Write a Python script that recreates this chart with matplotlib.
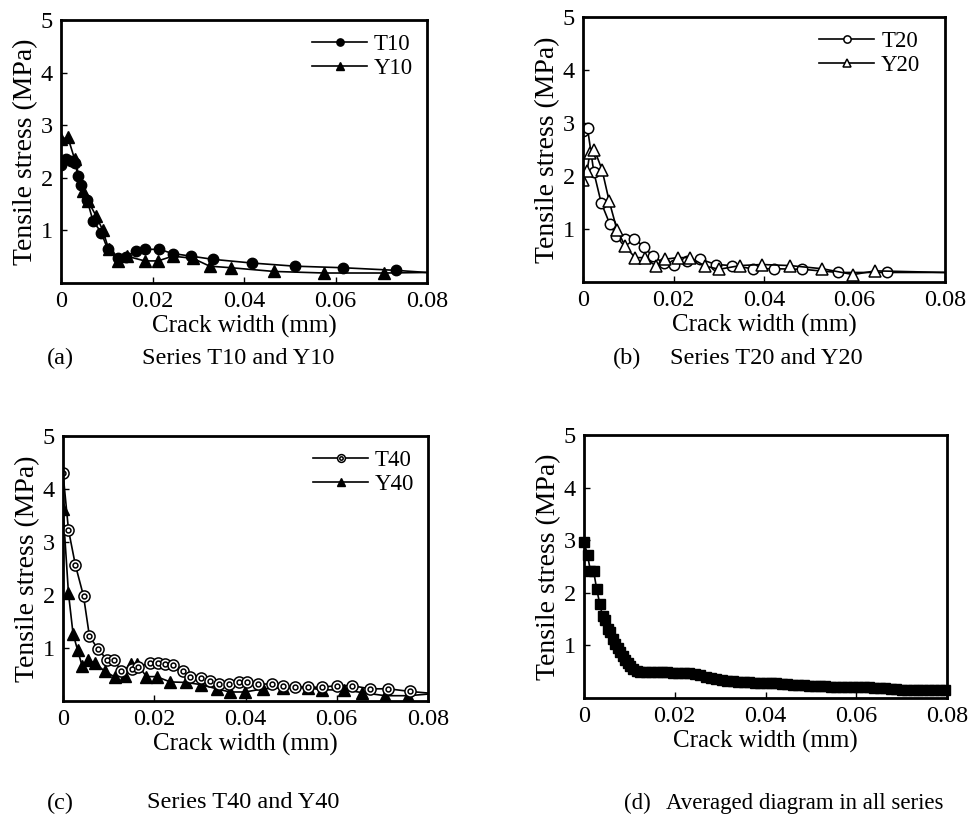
import matplotlib
matplotlib.use("Agg")
import matplotlib.pyplot as plt

plt.rcParams['font.family'] = ['Liberation Serif', 'DejaVu Serif']

# ---- data (crack width in mm, stress in MPa) ----
t10_x = [0.0000, 0.0012, 0.0022, 0.0031, 0.0037, 0.0044, 0.0057, 0.0070, 0.0088, 0.0102, 0.0124,
         0.0142, 0.0164, 0.0183, 0.0215, 0.0244, 0.0285, 0.0332, 0.0417, 0.0511, 0.0617, 0.0733, 0.0800]
t10_y = [2.25, 2.35, 2.32, 2.28, 2.03, 1.86, 1.58, 1.18, 0.96, 0.64, 0.48,
         0.50, 0.61, 0.64, 0.64, 0.56, 0.51, 0.45, 0.38, 0.32, 0.29, 0.24, 0.20]
y10_x = [0.0000, 0.0015, 0.0030, 0.0048, 0.0059, 0.0077, 0.0091, 0.0104, 0.0124, 0.0144,
         0.0183, 0.0212, 0.0244, 0.0288, 0.0325, 0.0372, 0.0465, 0.0575, 0.0706, 0.0800]
y10_y = [2.73, 2.77, 2.35, 1.75, 1.56, 1.27, 1.01, 0.65, 0.42, 0.51,
         0.42, 0.42, 0.51, 0.47, 0.32, 0.29, 0.22, 0.19, 0.19, 0.20]

t20_x = [0.0000, 0.0010, 0.0024, 0.0040, 0.0059, 0.0074, 0.0093, 0.0113, 0.0135, 0.0154, 0.0178,
         0.0200, 0.0229, 0.0259, 0.0294, 0.0329, 0.0375, 0.0423, 0.0485, 0.0563, 0.0671, 0.0800]
t20_y = [2.85, 2.90, 2.07, 1.50, 1.10, 0.87, 0.82, 0.82, 0.66, 0.49, 0.36,
         0.33, 0.39, 0.43, 0.33, 0.31, 0.25, 0.25, 0.24, 0.18, 0.18, 0.18]
y20_x = [0.0000, 0.0009, 0.0015, 0.0025, 0.0042, 0.0058, 0.0075, 0.0093, 0.0115, 0.0137, 0.0161,
         0.0182, 0.0209, 0.0237, 0.0270, 0.0301, 0.0347, 0.0395, 0.0457, 0.0529, 0.0597, 0.0646, 0.0800]
y20_y = [1.93, 2.09, 2.43, 2.50, 2.12, 1.52, 0.99, 0.68, 0.46, 0.46, 0.30,
         0.43, 0.46, 0.46, 0.30, 0.24, 0.31, 0.33, 0.31, 0.25, 0.14, 0.21, 0.18]

t40_x = [0.0000, 0.0012, 0.0027, 0.0045, 0.0058, 0.0076, 0.0096, 0.0111, 0.0128, 0.0151, 0.0164,
         0.0191, 0.0209, 0.0224, 0.0240, 0.0262, 0.0279, 0.0302, 0.0323, 0.0341, 0.0363, 0.0385,
         0.0403, 0.0428, 0.0458, 0.0483, 0.0509, 0.0538, 0.0567, 0.0600, 0.0633, 0.0673, 0.0713,
         0.0761, 0.0800]
t40_y = [4.30, 3.23, 2.57, 1.98, 1.22, 0.99, 0.78, 0.77, 0.57, 0.60, 0.64,
         0.72, 0.72, 0.69, 0.68, 0.56, 0.46, 0.43, 0.38, 0.32, 0.32, 0.35,
         0.35, 0.32, 0.32, 0.28, 0.27, 0.26, 0.26, 0.29, 0.29, 0.23, 0.23,
         0.18, 0.15]
y40_x = [0.0000, 0.0012, 0.0022, 0.0032, 0.0042, 0.0055, 0.0070, 0.0092, 0.0114, 0.0136, 0.0149,
         0.0163, 0.0183, 0.0205, 0.0235, 0.0270, 0.0302, 0.0337, 0.0366, 0.0399, 0.0439, 0.0483,
         0.0538, 0.0567, 0.0615, 0.0655, 0.0706, 0.0757, 0.0800]
y40_y = [3.62, 2.03, 1.27, 0.96, 0.66, 0.78, 0.71, 0.56, 0.45, 0.48, 0.69,
         0.69, 0.46, 0.46, 0.36, 0.35, 0.31, 0.23, 0.17, 0.17, 0.23, 0.25,
         0.25, 0.21, 0.21, 0.16, 0.10, 0.10, 0.13]

avg_x = [0.0000, 0.0008, 0.0014, 0.0021, 0.0028, 0.0035, 0.0041, 0.0046, 0.0052, 0.0057,
         0.0063, 0.0068, 0.0074, 0.0079, 0.0085, 0.0090, 0.0096, 0.0102, 0.0109, 0.0116,
         0.0124, 0.0136, 0.0148, 0.0160, 0.0172, 0.0184, 0.0196, 0.0208, 0.0220, 0.0232,
         0.0244, 0.0256, 0.0268, 0.0280, 0.0292, 0.0304, 0.0316, 0.0328, 0.0340, 0.0352,
         0.0364, 0.0376, 0.0388, 0.0400, 0.0412, 0.0424, 0.0436, 0.0448, 0.0460, 0.0472,
         0.0484, 0.0496, 0.0508, 0.0520, 0.0532, 0.0544, 0.0556, 0.0568, 0.0580, 0.0592,
         0.0604, 0.0616, 0.0628, 0.0640, 0.0652, 0.0664, 0.0676, 0.0688, 0.0700, 0.0712,
         0.0724, 0.0736, 0.0748, 0.0760, 0.0772, 0.0784, 0.0796]
avg_y = [2.97, 2.71, 2.42, 2.42, 2.07, 1.78, 1.55, 1.48, 1.32, 1.26,
         1.12, 1.03, 0.95, 0.87, 0.80, 0.73, 0.66, 0.60, 0.55, 0.51,
         0.50, 0.50, 0.50, 0.50, 0.49, 0.49, 0.48, 0.48, 0.48, 0.48,
         0.46, 0.43, 0.40, 0.38, 0.36, 0.34, 0.33, 0.32, 0.31, 0.30,
         0.30, 0.29, 0.29, 0.29, 0.28, 0.28, 0.27, 0.26, 0.25, 0.24,
         0.24, 0.23, 0.23, 0.22, 0.22, 0.21, 0.21, 0.21, 0.20, 0.20,
         0.20, 0.20, 0.20, 0.19, 0.19, 0.19, 0.18, 0.17, 0.16, 0.16,
         0.16, 0.16, 0.16, 0.16, 0.16, 0.16, 0.16]

x_ticks = [0, 0.02, 0.04, 0.06, 0.08]
x_tick_labels = ['0', '0.02', '0.04', '0.06', '0.08']
y_ticks = [1, 2, 3, 4, 5]

W, H = 975, 815
fig = plt.figure(figsize=(W / 100, H / 100), dpi=100)


def px_rect(left, top, right, bottom):
    return [left / W, 1 - bottom / H, (right - left) / W, (bottom - top) / H]


def make_axes(rect):
    ax = fig.add_axes(rect)
    ax.set_xlim(0, 0.08)
    ax.set_ylim(0, 5)
    ax.set_xticks(x_ticks)
    ax.set_xticklabels(x_tick_labels)
    ax.set_yticks(y_ticks)
    ax.tick_params(direction='in', length=4, width=1, labelsize=17.5, pad=6)
    for s in ax.spines.values():
        s.set_linewidth(2)
    ax.set_xlabel('Crack width (mm)', fontsize=18, labelpad=2)
    ax.set_ylabel('Tensile stress (MPa)', fontsize=20, labelpad=2)
    return ax


def curve(ax, x, y, **kw):
    # last point only carries the line to the right edge, no marker there
    return ax.plot(x, y, color='k', lw=1.2, markevery=slice(0, len(x) - 1), **kw)[0]


leg_kw = dict(loc='upper right', frameon=False, fontsize=16.5, handlelength=2.4,
              handletextpad=0.3, labelspacing=0.15, borderaxespad=0.3, borderpad=0.3,
              markerscale=0.7)

# (a)
ax = make_axes(px_rect(61, 20, 427, 283))
h1 = curve(ax, t10_x, t10_y, marker='o', ms=7.5, mfc='k', mec='k')
h2 = curve(ax, y10_x, y10_y, marker='^', ms=8, mfc='k', mec='k')
ax.legend([h1, h2], ['T10', 'Y10'], **leg_kw)

# (b)
ax = make_axes(px_rect(583, 17, 945, 282))
h1 = curve(ax, t20_x, t20_y, marker='o', ms=7.5, mfc='white', mec='k', mew=1.1)
h2 = curve(ax, y20_x, y20_y, marker='^', ms=8, mfc='white', mec='k', mew=1.1)
ax.legend([h1, h2], ['T20', 'Y20'], bbox_to_anchor=(0.97, 1.0), **leg_kw)

# (c)
ax = make_axes(px_rect(63, 436, 428, 701))
h2 = curve(ax, y40_x, y40_y, marker='^', ms=8, mfc='k', mec='k')
h1 = curve(ax, t40_x, t40_y, marker='o', ms=8, mfc='white', mec='k', mew=1.1)
h1b = ax.plot(t40_x[:-1], t40_y[:-1], ls='none', marker='o', ms=3.5, mfc='white',
              mec='k', mew=1.1)[0]
ax.legend([(h1, h1b), h2], ['T40', 'Y40'], **leg_kw)

# (d)
ax = make_axes(px_rect(584, 435, 947, 698))
ax.plot(avg_x, avg_y, color='k', lw=1.2, marker='s', ms=7, mfc='k', mec='k', clip_on=False)

# captions
cap_kw = dict(fontsize=17.5, va='center', ha='left')
fig.text(47 / W, 1 - 358 / H, '(a)', **cap_kw)
fig.text(142 / W, 1 - 358 / H, 'Series T10 and Y10', **cap_kw)
fig.text(613 / W, 1 - 358 / H, '(b)', **cap_kw)
fig.text(670 / W, 1 - 358 / H, 'Series T20 and Y20', **cap_kw)
fig.text(47 / W, 1 - 803 / H, '(c)', **cap_kw)
fig.text(147 / W, 1 - 803 / H, 'Series T40 and Y40', **cap_kw)
fig.text(624 / W, 1 - 803 / H, '(d)', fontsize=16.5, va='center', ha='left')
fig.text(666 / W, 1 - 803 / H, 'Averaged diagram in all series', fontsize=16.5,
         va='center', ha='left')

fig.savefig('out.png', dpi=100)
